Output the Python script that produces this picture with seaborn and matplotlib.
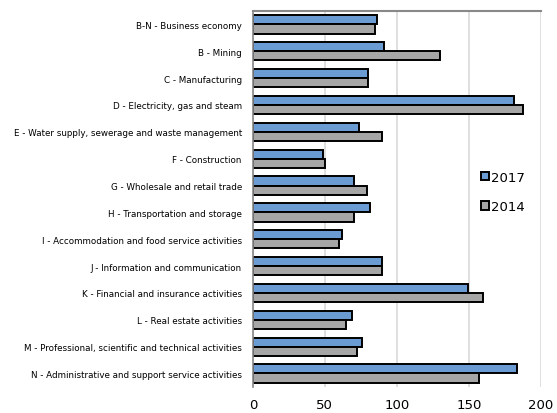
import pandas as pd
import numpy as np
import matplotlib
matplotlib.use("Agg")
import matplotlib.pyplot as plt
import seaborn as sns

sectors = [
    "B-N - Business economy",
    "B - Mining",
    "C - Manufacturing",
    "D - Electricity, gas and steam",
    "E - Water supply, sewerage and waste management",
    "F - Construction",
    "G - Wholesale and retail trade",
    "H - Transportation and storage",
    "I - Accommodation and food service activities",
    "J - Information and communication",
    "K - Financial and insurance activities",
    "L - Real estate activities",
    "M - Professional, scientific and technical activities",
    "N - Administrative and support service activities",
]
values_2017 = [86, 91, 80, 181.5, 73.5, 49, 70, 81, 62, 90, 149.5, 69, 76, 183.5]
values_2014 = [85, 130, 80, 187.5, 90, 50, 79.5, 70.5, 60, 90, 160, 65, 72.5, 157]
years = ["2017", "2014"]

df = pd.DataFrame({
    "sector": sectors * 2,
    "value": values_2017 + values_2014,
    "year": [years[0]] * len(sectors) + [years[1]] * len(sectors),
})

sns.set_style("white")
plt.rcParams['font.family'] = ['DejaVu Sans']
plt.rcParams['text.color'] = 'black'
plt.rcParams['xtick.color'] = 'black'
plt.rcParams['ytick.color'] = 'black'

fig = plt.figure(figsize=(5.57, 4.14), dpi=100)
ax = fig.add_axes([0.454, 0.063, 0.517, 0.908])

sns.barplot(
    data=df, x="value", y="sector", hue="year", orient="h",
    palette={"2017": "#6A9BD3", "2014": "#A6A6A6"}, saturation=1,
    width=0.68, edgecolor="black", linewidth=1.4, ax=ax, legend=True,
)

ax.set_xlim(0, 200)
ax.set_ylim(len(sectors) - 0.5, -0.5)
ax.set_xticks([0, 50, 100, 150, 200])
ax.tick_params(axis="x", labelsize=9.5, length=0, pad=8, labelcolor="black")
ax.grid(axis="x", color="#D9D9D9", linewidth=1.2)
ax.set_axisbelow(True)

# category labels without ticks, ticks at category boundaries
ax.tick_params(axis="y", which="major", length=0, labelsize=6.3, pad=8, labelcolor="black")
ax.set_yticks(np.arange(-0.5, len(sectors)), minor=True)
ax.tick_params(axis="y", which="minor", length=4, color="#888888", width=1.2)

ax.spines["bottom"].set_visible(False)
ax.spines["right"].set_visible(False)
ax.spines["left"].set_color("#888888")
ax.spines["left"].set_linewidth(1.2)
ax.spines["top"].set_color("#888888")
ax.spines["top"].set_linewidth(1.5)

ax.set_xlabel("")
ax.set_ylabel("")

handles, labels = ax.get_legend_handles_labels()
ax.legend(handles, labels, loc="center left", bbox_to_anchor=(0.843, 0.534),
          bbox_transform=fig.transFigure, frameon=False, fontsize=9.5,
          handlelength=0.6, handleheight=0.6, handletextpad=0.1, labelspacing=1.25)

fig.savefig("out.png", dpi=100)
